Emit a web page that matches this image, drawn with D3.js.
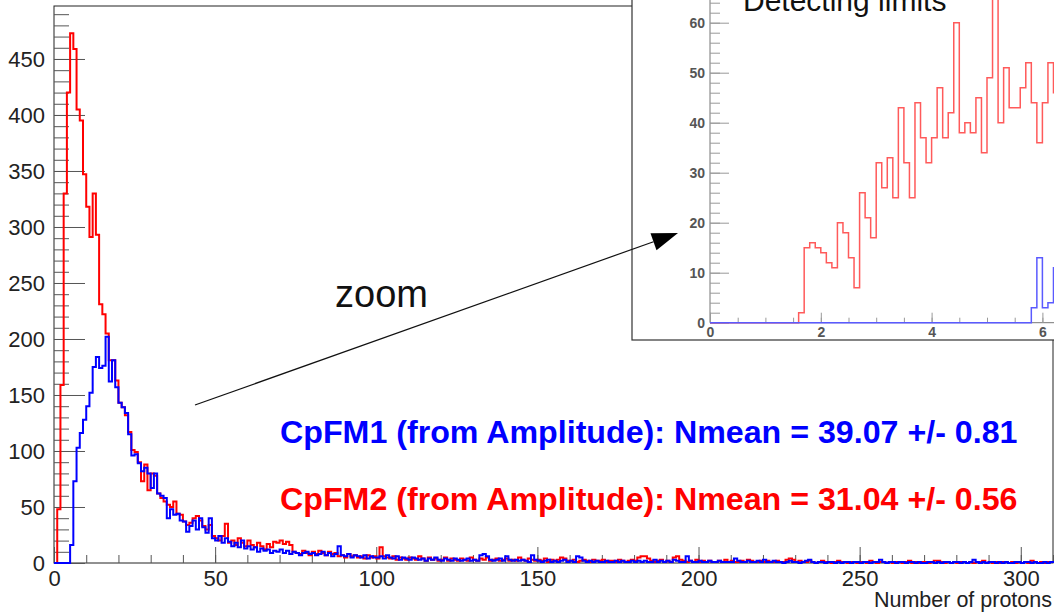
<!DOCTYPE html>
<html>
<head>
<meta charset="utf-8">
<script src="https://cdn.jsdelivr.net/npm/d3@7"></script>
<style>
  body { margin: 0; background: #fff; }
  svg { display: block; font-family: "Liberation Sans", Arial, Helvetica, sans-serif; }
</style>
</head>
<body>
<svg id="chart" width="1054" height="615"></svg>
<script>
// main histograms, 1 proton per bin, bins 0..309
var cpfm2 = [
  0, 48, 159, 330, 420, 473, 459, 405, 395, 347,
  318, 291, 330, 293, 231, 222, 205, 181, 181, 163,
  143, 139, 132, 117, 101, 99, 90, 73, 88, 65,
  80, 78, 62, 58, 55, 52, 50, 55, 44, 43,
  37, 34, 36, 40, 42, 38, 33, 30, 34, 24,
  22, 20, 24, 35, 18, 20, 16, 22, 18, 15,
  20, 16, 14, 18, 15, 12, 17, 14, 19, 18,
  20, 17, 19, 16, 10, 9, 8, 11, 9, 7,
  10, 8, 11, 9, 7, 10, 8, 9, 6, 7,
  5, 8, 6, 7, 5, 6, 4, 7, 5, 6,
  4, 14, 6, 5, 4, 6, 3, 5, 4, 3,
  5, 4, 3, 6, 4, 2, 5, 3, 4, 2,
  3, 5, 2, 4, 3, 2, 4, 3, 2, 5,
  3, 2, 4, 3, 5, 2, 3, 4, 2, 3,
  4, 2, 3, 2, 5, 3, 2, 4, 3, 2,
  3, 2, 4, 1, 3, 2, 3, 5, 4, 2,
  2, 3, 1, 2, 3, 2, 1, 3, 2, 2,
  3, 1, 2, 2, 1, 3, 2, 1, 2, 3,
  2, 5, 6, 6, 4, 2, 1, 2, 3, 1,
  2, 1, 5, 6, 3, 2, 1, 2, 1, 3,
  1, 2, 1, 2, 1, 1, 2, 1, 3, 1,
  2, 1, 1, 2, 1, 3, 2, 1, 1, 2,
  1, 2, 1, 1, 2, 1, 1, 3, 4, 3,
  1, 2, 1, 1, 2, 1, 0, 1, 2, 1,
  1, 0, 1, 2, 1, 1, 0, 1, 1, 0,
  1, 1, 0, 2, 1, 0, 1, 1, 0, 1,
  0, 1, 1, 0, 1, 2, 0, 1, 0, 1,
  1, 0, 1, 2, 2, 1, 0, 1, 0, 1,
  0, 1, 1, 0, 1, 0, 1, 1, 2, 0,
  1, 0, 1, 0, 1, 1, 0, 1, 0, 1,
  0, 1, 0, 2, 1, 0, 1, 0, 1, 1
];
var cpfm1 = [
  0, 0, 0, 0, 0, 16, 73, 103, 116, 128,
  140, 152, 175, 184, 174, 176, 202, 162, 181, 157,
  143, 139, 134, 115, 96, 97, 89, 82, 85, 80,
  67, 80, 62, 60, 58, 40, 48, 43, 44, 38,
  37, 28, 33, 38, 30, 40, 32, 27, 40, 22,
  20, 24, 18, 22, 19, 15, 18, 14, 20, 13,
  15, 12, 14, 10, 13, 11, 12, 9, 11, 10,
  12, 9, 11, 8, 10, 9, 7, 9, 10, 8,
  9, 7, 8, 10, 7, 9, 6, 8, 15, 7,
  6, 8, 5, 7, 6, 5, 7, 4, 6, 5,
  5, 6, 4, 7, 5, 4, 6, 3, 5, 4,
  3, 5, 4, 3, 4, 2, 4, 3, 5, 3,
  2, 4, 3, 2, 4, 3, 2, 3, 4, 2,
  3, 2, 7, 8, 6, 3, 2, 3, 4, 2,
  6, 3, 2, 3, 2, 3, 2, 1, 7, 3,
  2, 1, 2, 3, 1, 2, 1, 2, 3, 1,
  2, 1, 6, 5, 2, 1, 2, 1, 2, 1,
  1, 2, 1, 1, 2, 1, 2, 1, 1, 2,
  1, 2, 1, 2, 1, 1, 3, 1, 2, 1,
  2, 1, 3, 2, 1, 1, 6, 2, 1, 1,
  2, 1, 1, 2, 1, 1, 2, 1, 1, 1,
  1, 4, 2, 1, 1, 2, 1, 1, 2, 1,
  3, 1, 1, 2, 1, 1, 0, 1, 2, 1,
  1, 0, 1, 2, 3, 1, 0, 1, 1, 0,
  1, 1, 0, 1, 0, 1, 1, 0, 1, 1,
  0, 1, 1, 0, 1, 1, 3, 1, 0, 1,
  1, 0, 1, 1, 0, 1, 1, 0, 1, 0,
  0, 1, 1, 0, 1, 0, 1, 1, 0, 1,
  1, 0, 1, 0, 1, 3, 1, 0, 1, 0,
  1, 1, 0, 1, 0, 1, 0, 0, 1, 1,
  0, 1, 1, 0, 1, 0, 0, 1, 0, 1
];

// zoomed histograms, 0.1 per bin, bins from 0.0 to 6.2
var zoomRed = [
  0, 0, 0, 0, 0, 0, 0, 0, 0, 0,
  0, 0, 0, 0, 0, 0, 2, 15, 16, 15,
  14, 12, 11, 20, 18, 13, 7, 26, 21, 17,
  32, 27, 33, 25, 43, 32, 25, 44, 37, 32,
  37, 47, 37, 42, 60, 38, 40, 38, 45, 34,
  49, 68, 40, 51, 43, 43, 47, 52, 44, 36,
  44, 52, 46
];
var zoomBlue = [
  0, 0, 0, 0, 0, 0, 0, 0, 0, 0,
  0, 0, 0, 0, 0, 0, 0, 0, 0, 0,
  0, 0, 0, 0, 0, 0, 0, 0, 0, 0,
  0, 0, 0, 0, 0, 0, 0, 0, 0, 0,
  0, 0, 0, 0, 0, 0, 0, 0, 0, 0,
  0, 0, 0, 0, 0, 0, 0, 0, 3, 13,
  3, 4, 11
];

var mainXTicks = [0, 50, 100, 150, 200, 250, 300];
var mainYTicks = [0, 50, 100, 150, 200, 250, 300, 350, 400, 450];
var zoomXTicks = [0, 2, 4, 6];
var zoomYTicks = [0, 10, 20, 30, 40, 50, 60];

var legendLines = [
  { text: "CpFM1 (from Amplitude): Nmean = 39.07 +/- 0.81", color: "#0000ff" },
  { text: "CpFM2 (from Amplitude): Nmean = 31.04 +/- 0.56", color: "#ff0000" }
];

var svg = d3.select("#chart");

// ---- main frame
var x = d3.scaleLinear().domain([0, 310]).range([54, 1053]);
var y = d3.scaleLinear().domain([0, 497.3]).range([563, 6]);

svg.append("rect")
  .attr("x", x(0)).attr("y", y(497.3))
  .attr("width", x(310) - x(0)).attr("height", y(0) - y(497.3))
  .attr("fill", "none").attr("stroke", "#222").attr("stroke-width", 1);

function styleAxis(g, color) {
  g.select(".domain").remove();
  g.selectAll("line").attr("stroke", color);
}

// y minor + major ticks (ROOT draws them inside the frame)
svg.append("g")
  .attr("transform", "translate(" + x(0) + ",0)")
  .call(d3.axisLeft(y).tickValues(d3.range(0, 491, 10)).tickSizeInner(-15).tickFormat(""))
  .call(styleAxis, "#555");
svg.append("g")
  .attr("transform", "translate(" + x(0) + ",0)")
  .call(d3.axisLeft(y).tickValues(mainYTicks).tickSizeInner(-31).tickPadding(9).tickFormat(d3.format("d")))
  .call(styleAxis, "#555")
  .selectAll("text").attr("font-size", 22).attr("fill", "#222").attr("font-family", null);

svg.append("g")
  .attr("transform", "translate(0," + y(0) + ")")
  .call(d3.axisBottom(x).tickValues(d3.range(0, 311, 10)).tickSizeInner(-8).tickFormat(""))
  .call(styleAxis, "#555");
svg.append("g")
  .attr("transform", "translate(0," + y(0) + ")")
  .call(d3.axisBottom(x).tickValues(mainXTicks).tickSizeInner(-16).tickPadding(7).tickFormat(d3.format("d")))
  .call(styleAxis, "#555")
  .selectAll("text").attr("font-size", 22).attr("fill", "#222").attr("font-family", null);

svg.append("text")
  .attr("x", 1052).attr("y", 607)
  .attr("text-anchor", "end")
  .attr("font-size", 21.5).attr("fill", "#222")
  .text("Number of protons");

// step outline like ROOT's hist
function stepPath(values, xs, ys, width) {
  var pts = [[0, 0]];
  values.forEach(function(v, i) { pts.push([i * width, v]); });
  pts.push([values.length * width, values[values.length - 1]]);
  pts.push([values.length * width, 0]);
  return d3.line()
    .x(function(d) { return xs(d[0]); })
    .y(function(d) { return ys(d[1]); })
    .curve(d3.curveStepAfter)(pts);
}

svg.append("path")
  .attr("d", stepPath(cpfm2, x, y, 1))
  .attr("fill", "none").attr("stroke", "#ff0000").attr("stroke-width", 2);
svg.append("path")
  .attr("d", stepPath(cpfm1, x, y, 1))
  .attr("fill", "none").attr("stroke", "#0000ff").attr("stroke-width", 2);

// legend lines
svg.selectAll(".legend")
  .data(legendLines)
  .enter().append("text")
  .attr("class", "legend")
  .attr("x", 280)
  .attr("y", function(d, i) { return 443 + i * 67; })
  .attr("font-size", 32.2).attr("font-weight", "bold")
  .attr("fill", function(d) { return d.color; })
  .text(function(d) { return d.text; });

// ---- inset pad
var pad = svg.append("g");
pad.append("rect")
  .attr("x", 632).attr("y", -2).attr("width", 440).attr("height", 342)
  .attr("fill", "#fff").attr("stroke", "#333").attr("stroke-width", 1.2);

var ix = d3.scaleLinear().domain([0, 7]).range([710, 710 + 7 * 55.4]);
var iy = d3.scaleLinear().domain([0, 65]).range([322.7, 322.7 - 65 * 5]);

pad.append("clipPath").attr("id", "inset-clip")
  .append("rect").attr("x", 633).attr("y", -1).attr("width", 440).attr("height", 340);
var inner = pad.append("g").attr("clip-path", "url(#inset-clip)");

inner.append("line")
  .attr("x1", ix(0)).attr("x2", ix(0)).attr("y1", iy(0)).attr("y2", iy(65))
  .attr("stroke", "#777");
inner.append("line")
  .attr("x1", ix(0)).attr("x2", ix(7)).attr("y1", iy(0)).attr("y2", iy(0))
  .attr("stroke", "#777");

inner.append("g")
  .attr("transform", "translate(" + ix(0) + ",0)")
  .call(d3.axisLeft(iy).tickValues(d3.range(0, 65, 2)).tickSizeInner(-10).tickFormat(""))
  .call(styleAxis, "#999");
inner.append("g")
  .attr("transform", "translate(" + ix(0) + ",0)")
  .call(d3.axisLeft(iy).tickValues(zoomYTicks).tickSizeInner(-19).tickPadding(5).tickFormat(d3.format("d")))
  .call(styleAxis, "#999")
  .selectAll("text").attr("font-size", 14).attr("font-weight", "bold").attr("fill", "#555").attr("font-family", null);

inner.append("g")
  .attr("transform", "translate(0," + iy(0) + ")")
  .call(d3.axisBottom(ix).tickValues(d3.range(0, 7.01, 0.5)).tickSizeInner(-5).tickFormat(""))
  .call(styleAxis, "#999");
inner.append("g")
  .attr("transform", "translate(0," + iy(0) + ")")
  .call(d3.axisBottom(ix).tickValues(zoomXTicks).tickSizeInner(-10).tickPadding(4).tickFormat(d3.format("d")))
  .call(styleAxis, "#999")
  .selectAll("text").attr("font-size", 14).attr("font-weight", "bold").attr("fill", "#555").attr("font-family", null);

inner.append("path")
  .attr("d", stepPath(zoomRed, ix, iy, 0.1))
  .attr("fill", "none").attr("stroke", "#ff5a5a").attr("stroke-width", 1.5);
inner.append("path")
  .attr("d", stepPath(zoomBlue, ix, iy, 0.1))
  .attr("fill", "none").attr("stroke", "#5a5aff").attr("stroke-width", 1.5);

inner.append("text")
  .attr("x", 743).attr("y", 11)
  .attr("font-size", 30).attr("fill", "#111")
  .text("Detecting limits");

// ---- annotation
var a0 = [195, 405], a1 = [678, 233];
var ang = Math.atan2(a1[1] - a0[1], a1[0] - a0[0]);
var hl = 26, hw = 9;
var base = [a1[0] - hl * Math.cos(ang), a1[1] - hl * Math.sin(ang)];
svg.append("line")
  .attr("x1", a0[0]).attr("y1", a0[1]).attr("x2", base[0]).attr("y2", base[1])
  .attr("stroke", "#111").attr("stroke-width", 1.2);
svg.append("polygon")
  .attr("points", [
    a1,
    [base[0] + hw * Math.sin(ang), base[1] - hw * Math.cos(ang)],
    [base[0] - hw * Math.sin(ang), base[1] + hw * Math.cos(ang)]
  ].map(function(p) { return p.join(","); }).join(" "))
  .attr("fill", "#000");

svg.append("text")
  .attr("x", 335).attr("y", 307)
  .attr("font-size", 38).attr("fill", "#111")
  .text("zoom");
</script>
</body>
</html>
